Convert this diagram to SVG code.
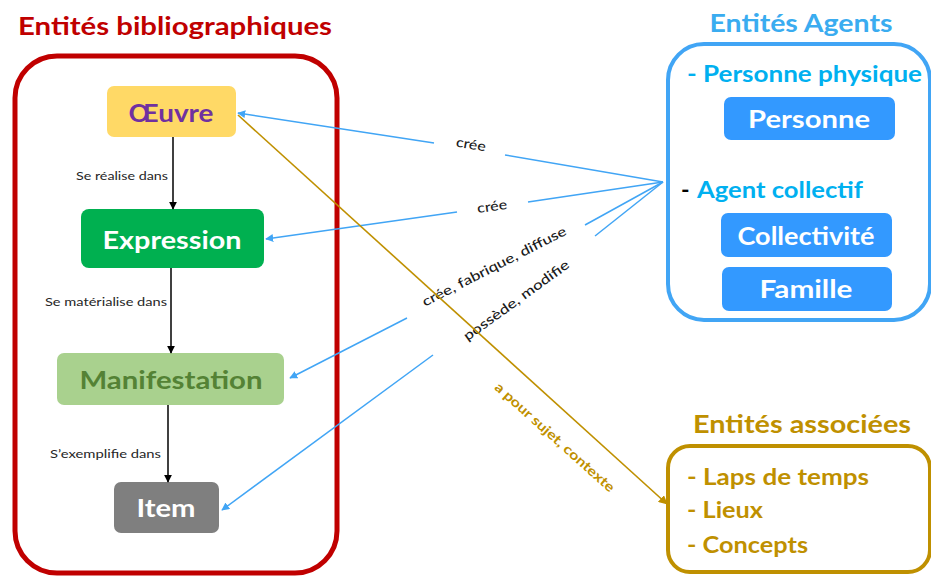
<svg xmlns="http://www.w3.org/2000/svg" width="931" height="578" viewBox="0 0 931 578">
<defs>
<style>
text{font-family:Lato,"Open Sans","Liberation Sans",sans-serif}
.b{font-weight:bold}
.lbl{font-size:12px;fill:#262626}
.rl{font-size:13.5px;fill:#1a1a1a;font-weight:500}
.node{font-size:24px;font-weight:bold;text-anchor:middle}
.blue{stroke:#41A5F5;stroke-width:1.5;fill:none}
.blk{stroke:#000;stroke-width:1.5;fill:none}
</style>
<marker id="ab" viewBox="0 0 10 10" refX="9" refY="5" markerWidth="8" markerHeight="8" markerUnits="userSpaceOnUse" orient="auto"><path d="M0,0L10,5L0,10z" fill="#41A5F5"/></marker>
<marker id="ak" viewBox="0 0 10 10" refX="9" refY="5" markerWidth="8" markerHeight="8" markerUnits="userSpaceOnUse" orient="auto"><path d="M0,0L10,5L0,10z" fill="#000"/></marker>
<marker id="ag" viewBox="0 0 10 10" refX="9" refY="5" markerWidth="9" markerHeight="9" markerUnits="userSpaceOnUse" orient="auto"><path d="M0,0L10,5L0,10z" fill="#BF9000"/></marker>
</defs>
<rect width="931" height="578" fill="#fff"/>

<g id="biblio">
<rect x="15" y="56" width="322" height="517" rx="42" fill="none" stroke="#C00000" stroke-width="5"/>
<text x="175" y="35" class="b" font-size="25" fill="#C00000" text-anchor="middle" textLength="314" lengthAdjust="spacingAndGlyphs">Entités bibliographiques</text>
</g>

<g id="oeuvre">
<rect x="107" y="86" width="129" height="51" rx="7" fill="#FFD966"/>
<text x="171" y="122" class="node" fill="#7030A0" textLength="85" lengthAdjust="spacingAndGlyphs">Œuvre</text>
</g>
<g id="expression">
<rect x="81" y="209" width="183" height="59" rx="8" fill="#00B050"/>
<text x="172" y="249" class="node" fill="#fff" textLength="139" lengthAdjust="spacingAndGlyphs">Expression</text>
</g>
<g id="manifestation">
<rect x="57" y="353" width="227" height="52" rx="7" fill="#A9D18E"/>
<text x="171" y="389" class="node" fill="#548235" textLength="183" lengthAdjust="spacingAndGlyphs">Manifestation</text>
</g>
<g id="item">
<rect x="114" y="482" width="105" height="51" rx="7" fill="#7F7F7F"/>
<text x="166" y="517" class="node" fill="#fff" textLength="59" lengthAdjust="spacingAndGlyphs">Item</text>
</g>

<g id="agents">
<rect x="668" y="44" width="262" height="276" rx="36" fill="none" stroke="#41A5F5" stroke-width="4"/>
<text x="801" y="32" class="b" font-size="24" fill="#3AACF0" text-anchor="middle" textLength="183" lengthAdjust="spacingAndGlyphs">Entités Agents</text>
<text x="687" y="82" class="b" font-size="23" fill="#00B0F0" textLength="235" lengthAdjust="spacingAndGlyphs">- Personne physique</text>
<text x="681" y="198" class="b" font-size="23" fill="#000">-</text>
<text x="697" y="198" class="b" font-size="23" fill="#00B0F0" textLength="166" lengthAdjust="spacingAndGlyphs">Agent collectif</text>
</g>
<g id="personne">
<rect x="724" y="97" width="171" height="43" rx="7" fill="#3399FF"/>
<text x="809" y="128" class="node" fill="#fff" textLength="122" lengthAdjust="spacingAndGlyphs">Personne</text>
</g>
<g id="collectivite">
<rect x="721" y="213" width="171" height="44" rx="7" fill="#3399FF"/>
<text x="806" y="245" class="node" fill="#fff" textLength="137" lengthAdjust="spacingAndGlyphs">Collectivité</text>
</g>
<g id="famille">
<rect x="722" y="267" width="170" height="44" rx="7" fill="#3399FF"/>
<text x="806" y="298" class="node" fill="#fff" textLength="93" lengthAdjust="spacingAndGlyphs">Famille</text>
</g>

<g id="associees">
<rect x="668" y="446" width="262" height="126" rx="22" fill="none" stroke="#BF9000" stroke-width="4"/>
<text x="802" y="433" class="b" font-size="24" fill="#BF9000" text-anchor="middle" textLength="218" lengthAdjust="spacingAndGlyphs">Entités associées</text>
<text x="687" y="485" class="b" font-size="23" fill="#BF9000" textLength="182" lengthAdjust="spacingAndGlyphs">- Laps de temps</text>
<text x="687" y="518" class="b" font-size="23" fill="#BF9000" textLength="76" lengthAdjust="spacingAndGlyphs">- Lieux</text>
<text x="687" y="553" class="b" font-size="23" fill="#BF9000" textLength="121" lengthAdjust="spacingAndGlyphs">- Concepts</text>
</g>

<g id="connectors">
<line x1="173" y1="137" x2="173" y2="209" class="blk" marker-end="url(#ak)"/>
<line x1="171" y1="268" x2="171" y2="353" class="blk" marker-end="url(#ak)"/>
<line x1="168" y1="405" x2="168" y2="482" class="blk" marker-end="url(#ak)"/>
<text x="168" y="180" class="lbl" text-anchor="end" textLength="92" lengthAdjust="spacingAndGlyphs">Se réalise dans</text>
<text x="167" y="306" class="lbl" text-anchor="end" textLength="122" lengthAdjust="spacingAndGlyphs">Se matérialise dans</text>
<text x="161" y="458" class="lbl" text-anchor="end" textLength="111" lengthAdjust="spacingAndGlyphs">S’exemplifie dans</text>

<line x1="663" y1="182" x2="505" y2="155" class="blue"/>
<line x1="434" y1="143" x2="238" y2="113" class="blue" marker-end="url(#ab)"/>
<text x="471" y="149" class="rl" text-anchor="middle" transform="rotate(9.2 471 144)" textLength="30" lengthAdjust="spacingAndGlyphs">crée</text>
<line x1="663" y1="182" x2="528" y2="202" class="blue"/>
<line x1="457" y1="212" x2="266" y2="239" class="blue" marker-end="url(#ab)"/>
<text x="492" y="211" class="rl" text-anchor="middle" transform="rotate(-8 492 206)" textLength="30" lengthAdjust="spacingAndGlyphs">crée</text>
<line x1="663" y1="182" x2="585" y2="225" class="blue"/>
<line x1="407" y1="318" x2="290" y2="378" class="blue" marker-end="url(#ab)"/>
<text x="494" y="271" class="rl" text-anchor="middle" transform="rotate(-27 494 266)" textLength="160" lengthAdjust="spacingAndGlyphs">crée, fabrique, diffuse</text>
<line x1="663" y1="182" x2="595" y2="236" class="blue"/>
<line x1="433" y1="355" x2="222" y2="510" class="blue" marker-end="url(#ab)"/>
<text x="516" y="305" class="rl" text-anchor="middle" transform="rotate(-36 516 300)" textLength="127" lengthAdjust="spacingAndGlyphs">possède, modifie</text>

<line x1="238" y1="115" x2="667" y2="504" stroke="#BF9000" stroke-width="1.6" marker-end="url(#ag)"/>
<text x="555" y="442" class="rl" style="fill:#BF9000;font-weight:bold" text-anchor="middle" transform="rotate(42 555 437)" textLength="156" lengthAdjust="spacingAndGlyphs">a pour sujet, contexte</text>
</g>
</svg>
